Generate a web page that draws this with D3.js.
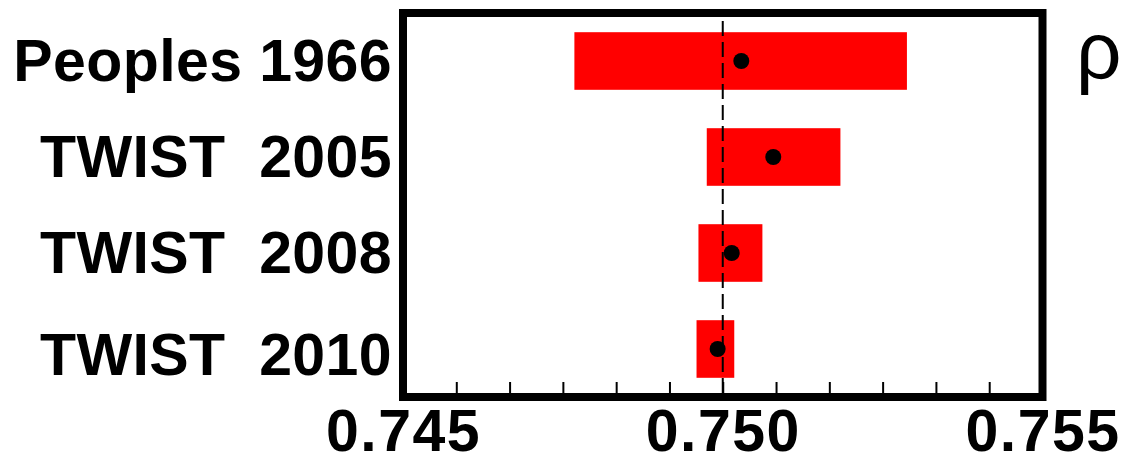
<!DOCTYPE html>
<html>
<head>
<meta charset="utf-8">
<script src="https://cdn.jsdelivr.net/npm/d3@7"></script>
<style>
  html, body { margin: 0; padding: 0; background: #fff; }
  svg { display: block; }
  text { font-family: "Liberation Sans", Arial, Helvetica, sans-serif; }
</style>
</head>
<body>
<svg id="chart" width="1122" height="457"></svg>
<script>
// ---- data ----
const experiments = ["Peoples 1966", "TWIST  2005", "TWIST  2008", "TWIST  2010"];
const rhoCentral  = [0.75029, 0.75079, 0.75014, 0.74992];
const rhoLow      = [0.74768, 0.74975, 0.74962, 0.74959];
const rhoHigh     = [0.75288, 0.75184, 0.75062, 0.75018];
const referenceValue = 0.750;
const axisDomain = [0.745, 0.755];
const tickLabels = [0.745, 0.750, 0.755];
const tickDivisions = 12;
const parameterName = "ρ";

// ---- layout ----
const svg = d3.select("#chart");
const frame = { left: 403, right: 1042.5, top: 13, bottom: 397 };

const x = d3.scaleLinear().domain(axisDomain).range([frame.left, frame.right]);
const y = d3.scaleBand().domain(experiments).range([frame.top, frame.bottom]).paddingInner(0.4).paddingOuter(0.2);

const rows = experiments.map((name, i) => ({
  name, i, c: rhoCentral[i], lo: rhoLow[i], hi: rhoHigh[i]
}));

// error boxes
svg.append("g").selectAll("rect").data(rows).join("rect")
  .attr("x", d => x(d.lo))
  .attr("width", d => x(d.hi) - x(d.lo))
  .attr("y", d => y(d.name))
  .attr("height", y.bandwidth())
  .attr("fill", "#ff0000");

// reference dashed line
svg.append("line")
  .attr("x1", x(referenceValue)).attr("x2", x(referenceValue))
  .attr("y1", frame.top + 8).attr("y2", frame.bottom)
  .attr("stroke", "#000").attr("stroke-width", 2)
  .attr("stroke-dasharray", "15,6");

// central values
svg.append("g").selectAll("circle").data(rows).join("circle")
  .attr("cx", d => x(d.c))
  .attr("cy", d => y(d.name) + y.bandwidth() / 2)
  .attr("r", 8)
  .attr("fill", "#000");

// minor/major ticks
const tickVals = d3.range(1, tickDivisions).map(k => axisDomain[0] + k * (axisDomain[1] - axisDomain[0]) / tickDivisions);
const tickAxis = d3.axisBottom(x).tickValues(tickVals).tickSizeInner(-15).tickSizeOuter(0).tickFormat("");
const gt = svg.append("g").attr("transform", `translate(0,${frame.bottom})`).call(tickAxis);
gt.select(".domain").remove();
gt.selectAll(".tick line").attr("stroke", "#000").attr("stroke-width", 2);

// tick labels
const labelAxis = d3.axisBottom(x).tickValues(tickLabels).tickSize(0).tickPadding(12).tickFormat(d3.format(".3f"));
const gl = svg.append("g").attr("transform", `translate(0,${frame.bottom})`).call(labelAxis);
gl.select(".domain").remove();
gl.selectAll(".tick text")
  .attr("font-family", "'Liberation Sans', Arial, sans-serif")
  .attr("font-weight", "bold")
  .attr("font-size", 59)
  .attr("letter-spacing", "1.5px")
  .attr("fill", "#000");

// frame
svg.append("rect")
  .attr("x", frame.left).attr("y", frame.top)
  .attr("width", frame.right - frame.left).attr("height", frame.bottom - frame.top)
  .attr("fill", "none").attr("stroke", "#000").attr("stroke-width", 8);

// category labels
svg.append("g").selectAll("text").data(rows).join("text")
  .attr("x", 392)
  .attr("y", d => y(d.name) + y.bandwidth() / 2 + (d.i === rows.length - 1 ? 26 : 20))
  .attr("text-anchor", "end")
  .attr("font-weight", "bold")
  .attr("font-size", 59)
  .attr("letter-spacing", "0.4px")
  .style("white-space", "pre")
  .attr("fill", "#000")
  .text(d => d.name);

// parameter symbol
svg.append("text")
  .attr("x", 1076).attr("y", 78)
  .attr("font-size", 80)
  .attr("fill", "#000")
  .text(parameterName);
</script>
</body>
</html>
